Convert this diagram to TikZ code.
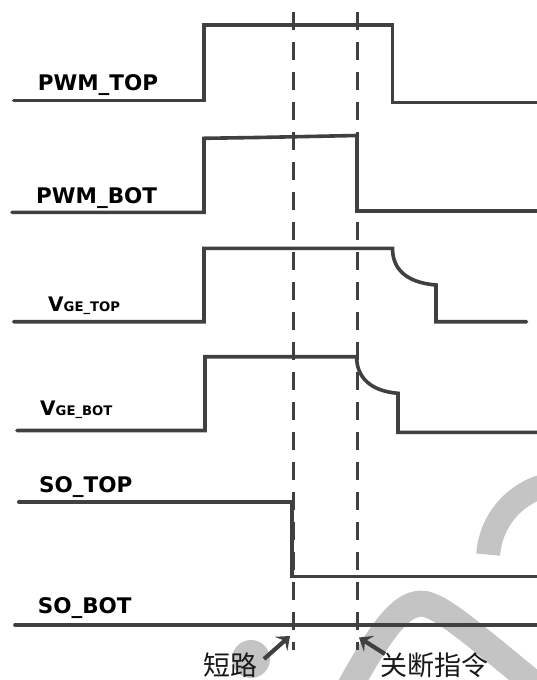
\documentclass[tikz,border=0pt]{standalone}
\usepackage{fontspec}
\newfontfamily\labfont{DejaVu Sans}
\newfontfamily\cjkfont{Noto Sans CJK SC}
\usetikzlibrary{arrows.meta}
\definecolor{wavec}{HTML}{404040}
\definecolor{wmc}{HTML}{C4C4C4}
\begin{document}
\begin{tikzpicture}[x=1pt,y=-1pt,
  wave/.style={draw=wavec, line width=3.6pt, line join=miter, line cap=round},
  guide/.style={draw=wavec, line width=3pt, dash pattern=on 18pt off 12pt},
  wmark/.style={draw=wmc},
  lab/.style={font={\labfont\bfseries\fontsize{21.5}{26}\selectfont}, anchor=base west, inner sep=0pt, text=black},
  vlab/.style={font={\labfont\bfseries}, anchor=base west, inner sep=0pt, text=black},
  cjklab/.style={font={\cjkfont\fontsize{27}{30}\selectfont}, anchor=base west, inner sep=0pt, text=black!90},
  arr/.style={draw=wavec, line width=4.2pt, -{Stealth[length=12pt,width=19pt,inset=5pt]}}]
\useasboundingbox (0,0) rectangle (536,680);
% watermark
\fill[wmc] (251,659) circle (19);
\draw[wmark, line width=24pt] (565,560) ++(184:77) arc[start angle=184, end angle=300, radius=77];
\draw[wmark, line width=26pt] (340,705) .. controls (380,630) and (402,600) .. (425,604) .. controls (445,608) and (480,640) .. (560,705);
% waveforms
\draw[wave] (13.7,100.5) -- (204,100.5) -- (204,25) -- (392.5,25) -- (392.5,102.5) -- (537,102.5);
\draw[wave] (12,212.3) -- (204,212.3) -- (204,138.3) -- (257,137.5) -- (357,135.5) -- (357,211) -- (537,211);
\draw[wave] (13.7,321.7) -- (204,321.7) -- (204,248.3) -- (392.5,248.3) .. controls (392.5,268) and (405,282.5) .. (436,285) -- (436,321.7) -- (526.5,321.7);
\draw[wave] (17,430.5) -- (205,430.5) -- (205,356.7) -- (356.6,356.7) .. controls (356.6,376) and (369,391) .. (398,393.3) -- (398,432.3) -- (537,432.3);
\draw[wave] (18.8,501.7) -- (292,501.7) -- (292,576.5) -- (537,576.5);
\draw[wave] (15,625) -- (537,625);
% guides
\draw[guide] (293,12) -- (293,650);
\draw[guide] (357,12) -- (357,650);
% labels
\node[lab] (pwmtop) at (37.6,90.7) {PWM\_TOP};
\node[lab] (pwmbot) at (36,203.3) {PWM\_BOT};
\node[vlab] (vgetop) at (48,311) {{\fontsize{20}{22}\selectfont V}{\fontsize{13.2}{15}\selectfont GE\_TOP}};
\node[vlab] (vgebot) at (40,415.5) {{\fontsize{20}{22}\selectfont V}{\fontsize{13.2}{15}\selectfont GE\_BOT}};
\node[lab] (sotop) at (39,492.7) {SO\_TOP};
\node[lab] (sobot) at (37.6,613.3) {SO\_BOT};
\node[cjklab] (short) at (203,675) {短路};
\node[cjklab] (turnoff) at (380,675) {关断指令};
% arrows
\coordinate (a1s) at (264,659);
\coordinate (a1e) at (290,636);
\coordinate (a2s) at (385,654);
\coordinate (a2e) at (359,637.5);
\draw[arr] (a1s) -- (a1e);
\draw[arr] (a2s) -- (a2e);
\end{tikzpicture}
\end{document}
